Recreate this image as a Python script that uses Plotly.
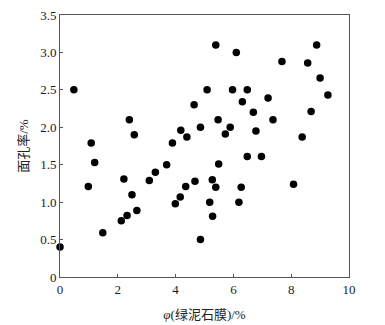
import plotly.graph_objects as go

chlorite = [0.00, 0.48, 0.98, 1.08, 1.20, 1.48, 2.12, 2.21, 2.32, 2.40, 2.49, 2.57, 2.66,
            3.09, 3.30, 3.69, 3.89, 3.99, 4.16, 4.18, 4.35, 4.39, 4.64, 4.67, 4.86, 4.86,
            5.09, 5.18, 5.27, 5.28, 5.39, 5.39, 5.47, 5.49, 5.72, 5.89, 5.97, 6.10, 6.19,
            6.27, 6.31, 6.48, 6.48, 6.69, 6.78, 6.97, 7.20, 7.37, 7.68, 8.08, 8.38, 8.57,
            8.69, 8.88, 9.00, 9.27]
porosity = [0.40, 2.50, 1.21, 1.79, 1.53, 0.59, 0.75, 1.31, 0.82, 2.10, 1.10, 1.90, 0.89,
            1.29, 1.40, 1.50, 1.79, 0.98, 1.07, 1.96, 1.21, 1.87, 2.30, 1.28, 0.50, 2.00,
            2.50, 1.00, 1.30, 0.81, 1.20, 3.10, 2.10, 1.51, 1.91, 2.00, 2.50, 3.00, 1.00,
            1.20, 2.34, 2.50, 1.61, 2.20, 1.95, 1.61, 2.39, 2.10, 2.88, 1.24, 1.87, 2.86,
            2.21, 3.10, 2.66, 2.43]

x_ticks = [0, 2, 4, 6, 8, 10]
x_tick_labels = ["0", "2", "4", "6", "8", "10"]
y_ticks = [0, 0.5, 1.0, 1.5, 2.0, 2.5, 3.0, 3.5]
y_tick_labels = ["0", "0.5", "1.0", "1.5", "2.0", "2.5", "3.0", "3.5"]

serif = "Liberation Serif, Times New Roman, serif"
cjk = "Liberation Serif, Noto Sans CJK SC, serif"

fig = go.Figure()
fig.add_trace(go.Scatter(
    x=chlorite, y=porosity, mode="markers",
    marker=dict(color="black", size=7.5, line=dict(width=0)),
    cliponaxis=False, showlegend=False,
))

axis_common = dict(
    showgrid=False, zeroline=False, showline=True, linecolor="#555", linewidth=1,
    mirror=True, ticks="inside", ticklen=3, tickcolor="#555", automargin=False,
    tickfont=dict(family=serif, size=13, color="#1a1a2e"),
)

fig.update_layout(
    width=385, height=325,
    margin=dict(l=60, r=36, t=15, b=48),
    paper_bgcolor="white", plot_bgcolor="white",
    xaxis=dict(range=[0, 10], tickvals=x_ticks, ticktext=x_tick_labels,
               title=dict(text="<i>φ</i>(绿泥石膜)/%", font=dict(family=cjk, size=13, color="#222"),
                          standoff=14),
               **axis_common),
    yaxis=dict(range=[0, 3.5], tickvals=y_ticks, ticktext=y_tick_labels,
               title=dict(text="面孔率/%", font=dict(family=cjk, size=13, color="#222"),
                          standoff=8),
               **axis_common),
)

fig.write_html("out.html")
